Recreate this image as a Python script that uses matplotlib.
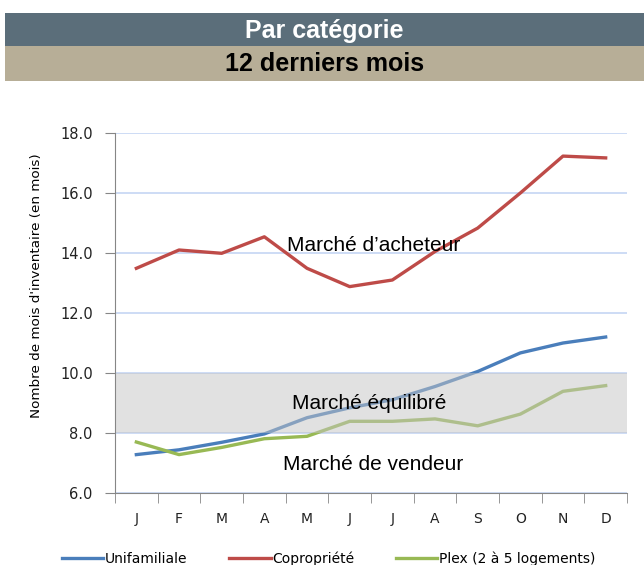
import matplotlib.pyplot as plt
from matplotlib.patches import Rectangle

# Data
mois = ["J", "F", "M", "A", "M", "J", "J", "A", "S", "O", "N", "D"]
unifamiliale = [7.28, 7.44, 7.69, 7.97, 8.51, 8.84, 9.11, 9.55, 10.05, 10.67, 11.0, 11.2]
copropriete = [13.49, 14.1, 13.99, 14.54, 13.49, 12.88, 13.1, 14.05, 14.83, 16.0, 17.23, 17.17]
plex = [7.7, 7.28, 7.52, 7.81, 7.89, 8.39, 8.39, 8.47, 8.24, 8.63, 9.39, 9.58]

plt.rcParams['font.family'] = ['DejaVu Sans']

fig = plt.figure(figsize=(6.44, 5.65), dpi=100)

# -----------------------------
# TITLE BARS
# -----------------------------
fig.patches.append(Rectangle((0.008, 0.9186), 0.992, 0.0584, transform=fig.transFigure,
                             facecolor="#5b6e7a", edgecolor="none"))
fig.patches.append(Rectangle((0.008, 0.8566), 0.992, 0.062, transform=fig.transFigure,
                             facecolor="#b7ae97", edgecolor="none"))
fig.text(0.504, 0.946, "Par catégorie", color="white", fontsize=18, fontweight="bold",
         ha="center", va="center", family="Liberation Sans")
fig.text(0.504, 0.886, "12 derniers mois", color="black", fontsize=18, fontweight="bold",
         ha="center", va="center", family="Liberation Sans")

# -----------------------------
# CHART
# -----------------------------
ax = fig.add_axes([0.1786, 0.1274, 0.795, 0.6372])
x = list(range(len(mois)))

ax.axhspan(8, 10, facecolor="#c4c4c4", alpha=0.5, edgecolor="none", zorder=3)

ax.plot(x, unifamiliale, color="#4a7ebb", lw=2.4, zorder=2, label="Unifamiliale")
ax.plot(x, copropriete, color="#be4b48", lw=2.4, zorder=2, label="Copropriété")
ax.plot(x, plex, color="#98b954", lw=2.4, zorder=2, label="Plex (2 à 5 logements)")

ax.set_xlim(-0.5, 11.5)
ax.set_ylim(6, 18)
ax.set_yticks(range(6, 19, 2))
ax.set_yticklabels([f"{v:.1f}" for v in range(6, 19, 2)], fontsize=10.5, color="#222222")
ax.set_xticks(x)
ax.set_xticklabels(mois, fontsize=10, color="#222222")
ax.set_xticks([i - 0.5 for i in range(13)], minor=True)
ax.tick_params(axis="x", which="major", length=0, pad=14)
ax.tick_params(axis="x", which="minor", length=7, color="#868686", direction="out")
ax.tick_params(axis="y", length=7, color="#868686", direction="out", pad=9)

ax.grid(axis="y", color="#c5d5f3", lw=1.2, zorder=0)
ax.set_axisbelow(True)
for s in ["top", "right"]:
    ax.spines[s].set_visible(False)
for s in ["left", "bottom"]:
    ax.spines[s].set_color("#868686")
    ax.spines[s].set_zorder(4)

ax.set_ylabel("Nombre de mois d'inventaire (en mois)", fontsize=9.7)
ax.yaxis.set_label_coords(-0.14, 0.575)

ax.text(5.55, 14.25, "Marché d’acheteur", fontsize=15, ha="center", va="center", zorder=5,
        family="Liberation Sans")
ax.text(5.45, 9.0, "Marché équilibré", fontsize=15, ha="center", va="center", zorder=5,
        family="Liberation Sans")
ax.text(5.55, 6.95, "Marché de vendeur", fontsize=15, ha="center", va="center", zorder=5,
        family="Liberation Sans")

fig.legend(loc="lower center", bbox_to_anchor=(0.51, -0.024), ncol=3, frameon=False,
           fontsize=10, handlelength=3, columnspacing=3, handletextpad=0.1)

fig.savefig("out.png", dpi=100)
